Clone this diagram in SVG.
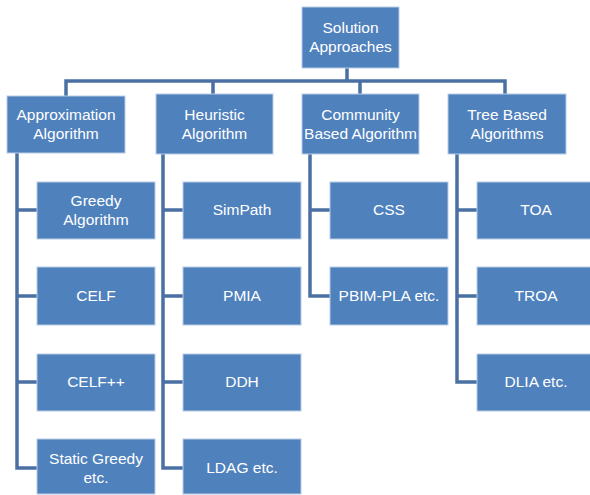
<svg xmlns="http://www.w3.org/2000/svg" width="590" height="495" viewBox="0 0 590 495">
<style>
.b{fill:#4f81bd;stroke:#b9cde5;stroke-width:1}
.t{fill:#ffffff;font-family:"Liberation Sans",Arial,sans-serif;font-size:15.5px;text-anchor:middle}
.c{fill:none;stroke:#4a70a3;stroke-width:3.5}
</style>
<rect width="590" height="495" fill="#ffffff"/>
<g id="connectors">
<path class="c" d="M347 68V81M66 96V81H505V96M213 81V96M360 81V96"/>
<path class="c" d="M17 153V468H37M17 210H37M17 296H37M17 382H37"/>
<path class="c" d="M163 154V468H183M163 210H183M163 296H183M163 382H183"/>
<path class="c" d="M310 154V296H330M310 210H330"/>
<path class="c" d="M457 154V382H477M457 210H477M457 296H477"/>
</g>
<g id="root"><rect class="b" x="302" y="7" width="97" height="61"/><text class="t" x="350.5" y="33">Solution</text><text class="t" x="350.5" y="52">Approaches</text></g>
<g id="approx"><rect class="b" x="7" y="96" width="118" height="57"/><text class="t" x="66" y="120">Approximation</text><text class="t" x="66" y="139">Algorithm</text></g>
<g id="heur"><rect class="b" x="156" y="94" width="117" height="60"/><text class="t" x="214.5" y="120">Heuristic</text><text class="t" x="214.5" y="139">Algorithm</text></g>
<g id="comm"><rect class="b" x="302" y="94" width="117" height="60"/><text class="t" x="360.5" y="120">Community</text><text class="t" x="360.5" y="139">Based Algorithm</text></g>
<g id="tree"><rect class="b" x="448" y="94" width="118" height="60"/><text class="t" x="507" y="120">Tree Based</text><text class="t" x="507" y="139">Algorithms</text></g>
<g id="greedy"><rect class="b" x="37" y="182" width="118" height="57"/><text class="t" x="96" y="206">Greedy</text><text class="t" x="96" y="225">Algorithm</text></g>
<g id="celf"><rect class="b" x="37" y="267" width="118" height="58"/><text class="t" x="96" y="301">CELF</text></g>
<g id="celfpp"><rect class="b" x="37" y="354" width="118" height="57"/><text class="t" x="96" y="387">CELF++</text></g>
<g id="static"><rect class="b" x="37" y="439" width="118" height="55"/><text class="t" x="96" y="464">Static Greedy</text><text class="t" x="96" y="483">etc.</text></g>
<g id="simpath"><rect class="b" x="183" y="182" width="118" height="57"/><text class="t" x="242" y="215">SimPath</text></g>
<g id="pmia"><rect class="b" x="183" y="267" width="118" height="58"/><text class="t" x="242" y="301">PMIA</text></g>
<g id="ddh"><rect class="b" x="183" y="354" width="118" height="57"/><text class="t" x="242" y="387">DDH</text></g>
<g id="ldag"><rect class="b" x="183" y="439" width="118" height="55"/><text class="t" x="242" y="473">LDAG etc.</text></g>
<g id="css"><rect class="b" x="330" y="182" width="118" height="57"/><text class="t" x="389" y="215">CSS</text></g>
<g id="pbim"><rect class="b" x="330" y="267" width="118" height="58"/><text class="t" x="389" y="301">PBIM-PLA etc.</text></g>
<g id="toa"><rect class="b" x="477" y="182" width="118" height="57"/><text class="t" x="536" y="215">TOA</text></g>
<g id="troa"><rect class="b" x="477" y="267" width="118" height="58"/><text class="t" x="536" y="301">TROA</text></g>
<g id="dlia"><rect class="b" x="477" y="354" width="118" height="57"/><text class="t" x="536" y="387">DLIA etc.</text></g>
</svg>
